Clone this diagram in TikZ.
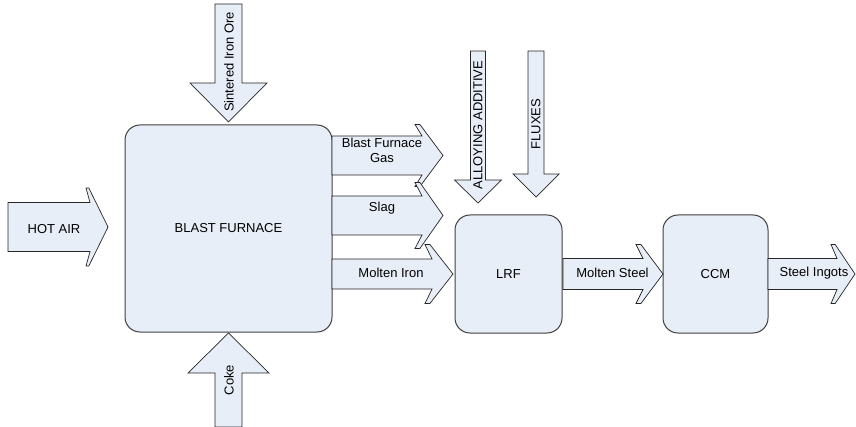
\documentclass[tikz,border=0pt]{standalone}
\usepackage{fontspec}
\setmainfont{Liberation Sans}
\usepackage{tikz}
\usetikzlibrary{positioning}
\definecolor{boxfill}{HTML}{E8EEF7}
\definecolor{boxline}{HTML}{404040}
% fat block arrow: base, angle, length, shaft half, head half, head length, slant
\newcommand{\fatarrow}[7]{%
  \draw[fat,shift={#1},rotate=#2]
    (0,#4) -- ({#3-#6+#7},#4) -- ({#3-#6},#5) -- ({#3-#6+0.7*#7},#5) -- (#3,0)
    -- ({#3-#6+0.7*#7},-#5) -- ({#3-#6},-#5) -- ({#3-#6+#7},-#4) -- (0,-#4) -- cycle;}

\begin{document}
\begin{tikzpicture}[x=1pt,y=-1pt,every node/.style={font=\fontsize{13}{15}\selectfont},
  unit/.style={draw=boxline,fill=boxfill,rounded corners=15pt,line width=1pt},
  fat/.style={draw=black!85,fill=boxfill,line width=0.7pt,line join=miter}]
  \useasboundingbox (0,0) rectangle (856,427);
  % process units
  \node[unit,minimum width=207pt,minimum height=207pt] (bf) at (228.5,228.5) {BLAST FURNACE};
  \node[unit,minimum width=107pt,minimum height=118pt] (lrf) at (508.5,274) {LRF};
  \node[unit,minimum width=105pt,minimum height=118pt] (ccm) at (715.5,274) {CCM};
  % feeds into the blast furnace
  \fatarrow{(228.5,4)}{-90}{118}{13.5}{38.5}{39}{0}
  \fatarrow{(228.5,427)}{90}{94}{13.5}{40.5}{40}{0}
  \fatarrow{(8,227)}{0}{100}{24.5}{39}{22}{4}
  % outputs of the blast furnace
  \fatarrow{(332,155.5)}{0}{111}{19.5}{31}{28}{7}
  \fatarrow{(332,215.5)}{0}{111}{19.5}{33}{28}{7}
  \fatarrow{(332,274)}{0}{121}{15}{29.5}{28}{7}
  % additions to the LRF
  \fatarrow{(478,51)}{-90}{152}{7.5}{23.5}{23}{0}
  \fatarrow{(536,51)}{-90}{146}{8}{23}{23}{0}
  % downstream
  \fatarrow{(563,274)}{0}{100}{15.5}{29.5}{27}{7}
  \fatarrow{(768,274)}{0}{87}{15.5}{29.5}{24}{6}
  % labels
  \node[rotate=90] (t-ore) at (229,62) {Sintered Iron Ore};
  \node[rotate=90] (t-coke) at (229,380) {Coke};
  \node (t-air) at (54,229) {HOT AIR};
  \node[align=center] (t-gas) at (382,150.5) {Blast Furnace\\Gas};
  \node (t-slag) at (382,208) {Slag};
  \node (t-iron) at (391,273) {Molten Iron};
  \node[rotate=90] (t-alloy) at (478,125) {ALLOYING ADDITIVE};
  \node[rotate=90] (t-flux) at (536,124) {FLUXES};
  \node (t-steel) at (612.5,273) {Molten Steel};
  \node (t-ingot) at (814,273) {Steel Ingots};
\end{tikzpicture}
\end{document}
